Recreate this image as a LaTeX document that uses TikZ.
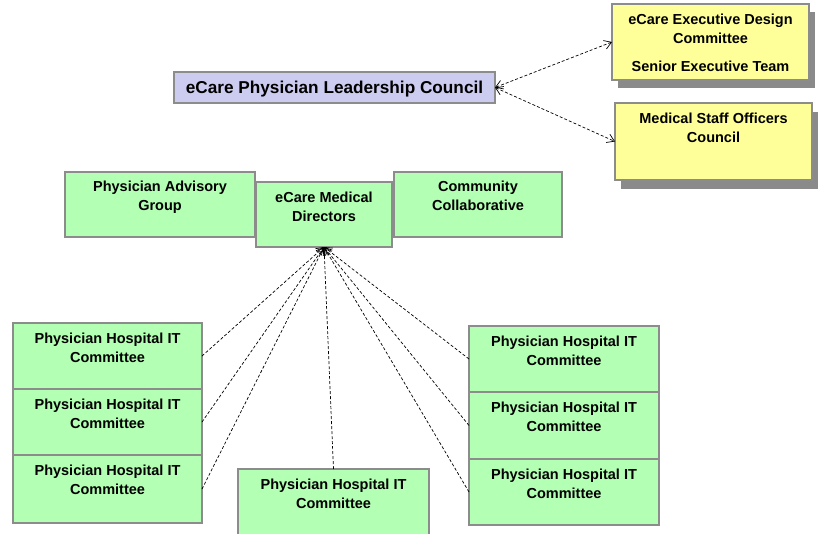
\documentclass[tikz,border=0pt]{standalone}
\usepackage{fontspec}
\setmainfont{Liberation Sans}
\usetikzlibrary{arrows.meta}
\definecolor{boxgreen}{HTML}{B3FFB3}
\definecolor{boxlav}{HTML}{CCCCF0}
\definecolor{boxyel}{HTML}{FFFF99}
\definecolor{boxedge}{HTML}{8C8C8C}
\definecolor{shadowgray}{HTML}{8A8A8A}
\tikzset{
  box/.style={draw=boxedge, line width=1.2pt, anchor=north west, inner sep=0pt, outer sep=0pt},
  greenbox/.style={box, fill=boxgreen},
  yelbox/.style={box, fill=boxyel},
  lavbox/.style={box, fill=boxlav},
  shadowbox/.style={fill=shadowgray, draw=none, anchor=north west, inner sep=0pt, outer sep=0pt},
  boxtext/.style={anchor=north, align=center, inner sep=0pt, font=\fontsize{14.5}{19}\selectfont\bfseries},
  link/.style={draw=black, line width=0.7pt, dash pattern=on 3pt off 2pt},
  tip/.style={-{Straight Barb[length=7pt,width=9pt,line width=0.7pt]}},
  bitip/.style={{Straight Barb[length=7pt,width=9pt,line width=0.7pt]}-{Straight Barb[length=7pt,width=9pt,line width=0.7pt]}}
}
\begin{document}
\begin{tikzpicture}[x=1pt,y=-1pt]
\useasboundingbox (0,0) rectangle (818,533);
% yellow boxes with shadows
\node[shadowbox, minimum width=197pt, minimum height=76pt] (ys1) at (618,12) {};
\node[yelbox, minimum width=197pt, minimum height=76pt] (y1) at (612,4) {};
\node[boxtext] (y1t) at ([yshift=-10pt]y1.north) {eCare Executive Design\\Committee\\[9pt]Senior Executive Team};
\node[shadowbox, minimum width=197pt, minimum height=77pt] (ys2) at (621,112) {};
\node[yelbox, minimum width=197pt, minimum height=77pt] (y2) at (615,103) {};
\node[boxtext] (y2t) at ([yshift=-10pt]y2.north) {Medical Staff Officers\\Council};
% council
\node[lavbox, minimum width=321pt, minimum height=31pt] (council) at (174,72) {};
\node[anchor=center, inner sep=0pt, font=\fontsize{17.2}{20}\selectfont\bfseries] (councilt) at ([yshift=-2pt]council.center) {eCare Physician Leadership Council};
\draw[link, bitip] (y1.west) -- (council.east);
\draw[link, bitip] (council.east) -- (y2.west);
% middle row
\node[greenbox, minimum width=190pt, minimum height=65pt] (pag) at (65,172) {};
\node[boxtext] (pagt) at ([yshift=-9pt]pag.north) {Physician Advisory\\Group};
\node[greenbox, minimum width=168pt, minimum height=65pt] (cc) at (394,172) {};
\node[boxtext] (cct) at ([yshift=-9pt]cc.north) {Community\\Collaborative};
\node[greenbox, minimum width=136pt, minimum height=65pt] (emd) at (256,182) {};
\node[boxtext] (emdt) at ([yshift=-10pt]emd.north) {eCare Medical\\Directors};
% left column
\node[greenbox, minimum width=189pt, minimum height=66pt] (l1) at (13,323) {};
\node[greenbox, minimum width=189pt, minimum height=66pt] (l2) at (13,389) {};
\node[greenbox, minimum width=189pt, minimum height=68pt] (l3) at (13,455) {};
\node[boxtext] (l1t) at ([yshift=-10pt]l1.north) {Physician Hospital IT\\Committee};
\node[boxtext] (l2t) at ([yshift=-10pt]l2.north) {Physician Hospital IT\\Committee};
\node[boxtext] (l3t) at ([yshift=-10pt]l3.north) {Physician Hospital IT\\Committee};
% right column
\node[greenbox, minimum width=190pt, minimum height=66pt] (r1) at (469,326) {};
\node[greenbox, minimum width=190pt, minimum height=67pt] (r2) at (469,392) {};
\node[greenbox, minimum width=190pt, minimum height=66pt] (r3) at (469,459) {};
\node[boxtext] (r1t) at ([yshift=-10pt]r1.north) {Physician Hospital IT\\Committee};
\node[boxtext] (r2t) at ([yshift=-10pt]r2.north) {Physician Hospital IT\\Committee};
\node[boxtext] (r3t) at ([yshift=-10pt]r3.north) {Physician Hospital IT\\Committee};
% bottom centre
\node[greenbox, minimum width=191pt, minimum height=70pt] (c1) at (238,469) {};
\node[boxtext] (c1t) at ([yshift=-10pt]c1.north) {Physician Hospital IT\\Committee};
% connectors
\foreach \b/\a in {l1/east, l2/east, l3/east, c1/north, r1/west, r2/west, r3/west}{
  \draw[link, tip] (\b.\a) -- (emd.south);
}
\end{tikzpicture}
\end{document}
